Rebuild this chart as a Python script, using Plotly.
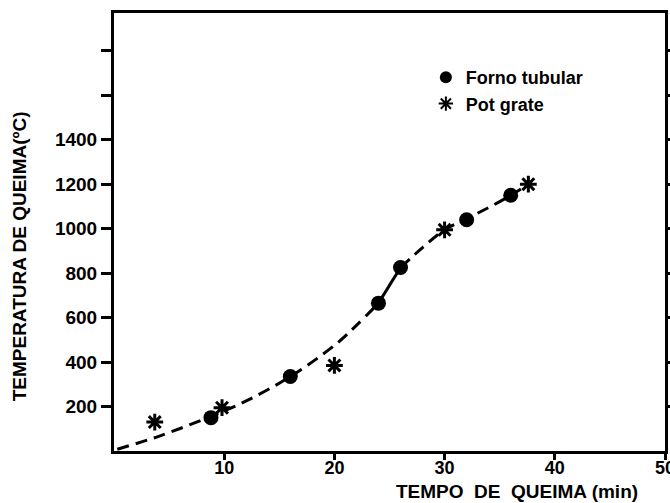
import plotly.graph_objects as go

# Data
forno_x = [8.8, 16, 24, 26, 32, 36]
forno_y = [150, 335, 665, 825, 1040, 1150]

pot_x = [3.7, 9.8, 20, 30, 37.6]
pot_y = [130, 195, 385, 995, 1200]

# fitted curve (as drawn)
curve_low_x = [0.3, 4, 9, 12, 16, 20, 22, 24]
curve_low_y = [8, 65, 160, 225, 335, 475, 565, 665]
curve_mid_x = [24, 26]
curve_mid_y = [665, 825]
curve_up_x = [26, 28, 30, 32, 34, 36, 37.6]
curve_up_y = [825, 915, 995, 1045, 1095, 1150, 1200]

x_ticks = [10, 20, 30, 40, 50]
x_ticktext = ["10", "20", "30", "40", "50"]
y_ticks = [200, 400, 600, 800, 1000, 1200, 1400, 1600, 1800]
y_ticktext = ["200", "400", "600", "800", "1000", "1200", "1400", "", ""]

FONT = "Liberation Sans"

fig = go.Figure()
fig.add_trace(go.Scatter(x=curve_low_x, y=curve_low_y, mode="lines", showlegend=False,
                         line=dict(color="black", width=3, dash="12px,7px", shape="spline")))
fig.add_trace(go.Scatter(x=curve_mid_x, y=curve_mid_y, mode="lines", showlegend=False,
                         line=dict(color="black", width=3)))
fig.add_trace(go.Scatter(x=curve_up_x, y=curve_up_y, mode="lines", showlegend=False,
                         line=dict(color="black", width=3, dash="12px,7px", shape="spline")))
fig.add_trace(go.Scatter(x=forno_x, y=forno_y, mode="markers", name="Forno tubular",
                         marker=dict(symbol="circle", size=15, color="black")))
fig.add_trace(go.Scatter(x=pot_x, y=pot_y, mode="markers", name="Pot grate",
                         marker=dict(symbol="asterisk-open", size=14, color="black",
                                     line=dict(color="black", width=3))))

fig.update_layout(
    width=670, height=503,
    margin=dict(l=114, r=5, t=13, b=52),
    plot_bgcolor="white", paper_bgcolor="white",
    font=dict(family=FONT, size=16, color="black", weight="bold"),
    legend=dict(x=0.566, y=0.895, xanchor="left", yanchor="top", bgcolor="rgba(0,0,0,0)",
                font=dict(size=18, family=FONT, weight="bold"), itemsizing="constant",
                tracegroupgap=0),
    xaxis=dict(range=[0, 50], tickvals=x_ticks, ticktext=x_ticktext, showgrid=False,
               zeroline=False, showline=True, linecolor="black", linewidth=3, mirror=True,
               ticks="outside", ticklen=6, tickwidth=2.5, tickcolor="black", automargin=False,
               ticklabeloverflow="allow", ticklabelstandoff=-8,
               tickfont=dict(size=18, family=FONT, weight="bold")),
    yaxis=dict(range=[0, 1970], tickvals=y_ticks, ticktext=y_ticktext, showgrid=False,
               zeroline=False, showline=True, linecolor="black", linewidth=3, mirror="ticks",
               ticks="outside", ticklen=10, tickwidth=2.5, tickcolor="black", automargin=False,
               tickfont=dict(size=19, family=FONT, weight="bold")),
    annotations=[
        dict(text="TEMPERATURA DE QUEIMA(ºC)", xref="paper", yref="paper",
             x=-0.172, y=0.445, xanchor="center", yanchor="middle", textangle=-90,
             showarrow=False, font=dict(size=19, family=FONT, weight="bold")),
        dict(text="TEMPO  DE  QUEIMA (min)", xref="paper", yref="paper",
             x=0.731, y=-0.092, xanchor="center", yanchor="middle",
             showarrow=False, font=dict(size=19, family=FONT, weight="bold")),
    ],
)

fig.write_html("out.html")
